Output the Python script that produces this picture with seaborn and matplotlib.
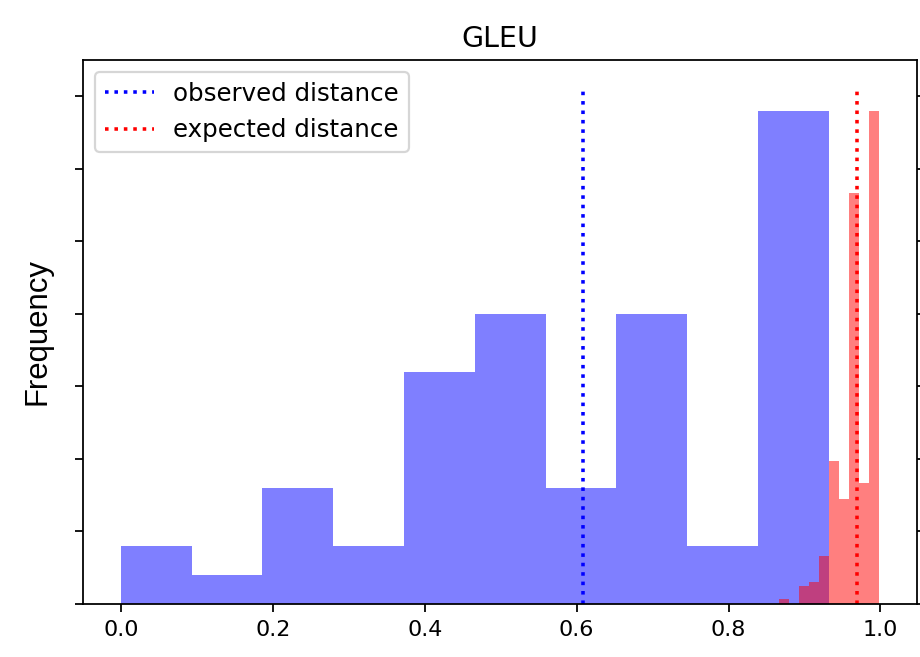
import numpy as np
import pandas as pd
import matplotlib
matplotlib.use("Agg")
import matplotlib.pyplot as plt
import seaborn as sns

# blue histogram: observed GLEU distances, 10 bins
blue_range = (0.0, 0.932)
blue_counts = [2, 1, 4, 2, 8, 10, 4, 10, 2, 17]

# red histogram: expected distances, 10 narrow bins (same frequency scale)
red_range = (0.8664, 0.9978)
red_counts = [0.17, 0.0, 0.62, 0.77, 1.66, 4.93, 3.63, 14.15, 4.18, 17.0]

observed_distance = 0.608
expected_distance = 0.969

plt.rcParams["font.family"] = ["DejaVu Sans"]

fig, ax = plt.subplots(figsize=(920 / 160, 657 / 160), dpi=160)
fig.subplots_adjust(left=0.0902, right=0.9964, bottom=0.0807, top=0.9087)


def bin_frame(rng, counts):
    edges = np.linspace(rng[0], rng[1], len(counts) + 1)
    return pd.DataFrame({"score": (edges[:-1] + edges[1:]) / 2, "freq": counts})


sns.histplot(data=bin_frame(blue_range, blue_counts), x="score", weights="freq",
             bins=len(blue_counts), binrange=blue_range,
             color="blue", alpha=0.5, linewidth=0, ax=ax)
sns.histplot(data=bin_frame(red_range, red_counts), x="score", weights="freq",
             bins=len(red_counts), binrange=red_range,
             color="red", alpha=0.5, linewidth=0, ax=ax)

# vertical reference lines up to the current top of the axis
ymin, ymax = ax.get_ylim()
ax.vlines(observed_distance, 0, ymax, colors="blue", linestyles=":",
          linewidth=1.6, label="observed distance")
ax.vlines(expected_distance, 0, ymax, colors="red", linestyles=":",
          linewidth=1.6, label="expected distance")
ax.set_ylim(0, ymax * 1.05)

ax.set_title("GLEU", fontsize=12.8)
ax.set_ylabel("Frequency", fontsize=14, family=["Liberation Sans", "DejaVu Sans"],
              labelpad=10)
ax.set_xlabel("")
ax.tick_params(axis="y", right=True, labelleft=False)
ax.set_xticks([0.0, 0.2, 0.4, 0.6, 0.8, 1.0])

ax.legend(loc="upper left", fontsize=11)

fig.savefig("out.png", dpi=160)
